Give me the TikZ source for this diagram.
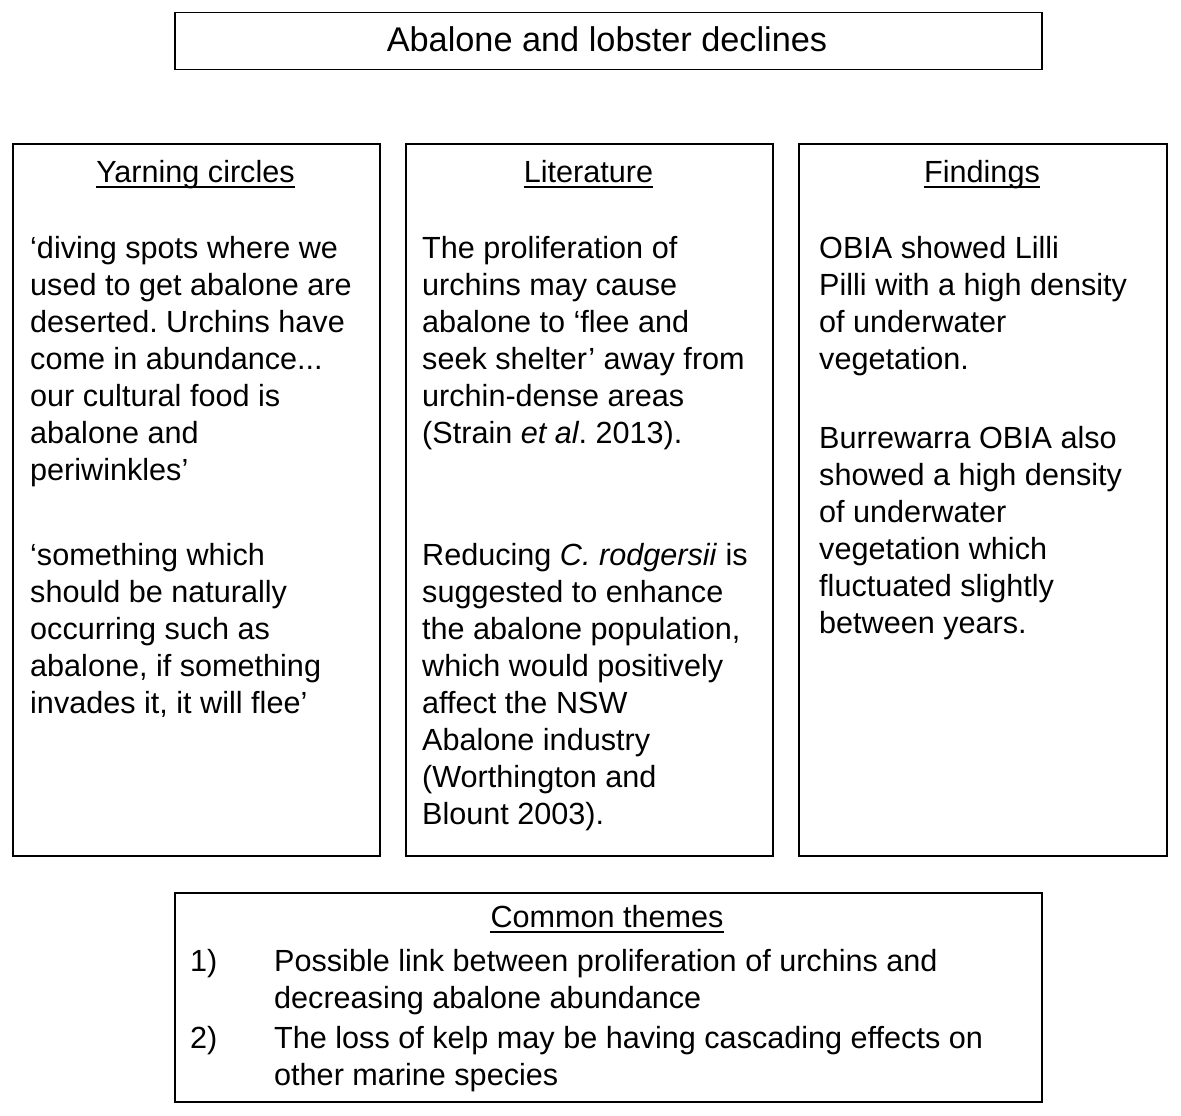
\documentclass[tikz,border=0pt]{standalone}
\usepackage{fontspec}
\setmainfont{Liberation Sans}
\frenchspacing
\newcommand{\bodyfont}{\fontsize{30.6}{37}\selectfont}
\newcommand{\titlefont}{\fontsize{34.3}{40}\selectfont}
\tikzset{
    panel/.style={draw, line width=1.5pt, inner sep=0pt, anchor=north west},
    head/.style={anchor=base, inner sep=0pt, font=\bodyfont},
    body/.style={anchor=north west, align=left, inner sep=0pt, font=\bodyfont},
    uline/.style={line width=1.6pt},
}
\begin{document}
\begin{tikzpicture}[x=1pt, y=-1pt]
    \useasboundingbox (0,0) rectangle (1181,1116);

    % title
    \node[panel, minimum width=867, minimum height=57] (titlebox) at (174,12) {};
    \node[head, font=\titlefont] (title) at (607,52) {Abalone and lobster declines};

    % three columns
    \node[panel, minimum width=367, minimum height=712] (yarnbox) at (12,143) {};
    \node[panel, minimum width=367, minimum height=712] (litbox) at (405,143) {};
    \node[panel, minimum width=368, minimum height=712] (findbox) at (798,143) {};

    % headings
    \node[head] (yarnhead) at (195.5,182) {Yarning circles};
    \node[head] (lithead) at (588.5,182) {Literature};
    \node[head] (findhead) at (982,182) {Findings};
    \foreach \h in {yarnhead, lithead, findhead}
        \draw[uline] ([yshift=-5pt]\h.base west) -- ([yshift=-5pt]\h.base east);

    % yarning circles
    \node[body] (yarn1) at (30,236) {‘diving spots where we\\used to get abalone are\\deserted. Urchins have\\come in abundance...\\our cultural food is\\abalone and\\periwinkles’};
    \node[body] (yarn2) at (30,543) {‘something which\\should be naturally\\occurring such as\\abalone, if something\\invades it, it will flee’};

    % literature
    \node[body] (lit1) at (422,236) {The proliferation of\\urchins may cause\\abalone to ‘flee and\\seek shelter’ away from\\urchin-dense areas\\(Strain \textit{et al}. 2013).};
    \node[body] (lit2) at (422,543) {Reducing \textit{C. rodgersii} is\\suggested to enhance\\the abalone population,\\which would positively\\affect the NSW\\Abalone industry\\(Worthington and\\Blount 2003).};

    % findings
    \node[body] (find1) at (819,236) {OBIA showed Lilli\\Pilli with a high density\\of underwater\\vegetation.};
    \node[body] (find2) at (819,426) {Burrewarra OBIA also\\showed a high density\\of underwater\\vegetation which\\fluctuated slightly\\between years.};

    % common themes
    \node[panel, minimum width=867, minimum height=209] (themebox) at (174,892) {};
    \node[head] (themehead) at (607,927) {Common themes};
    \draw[uline] ([yshift=-5pt]themehead.base west) -- ([yshift=-5pt]themehead.base east);
    \node[body] (num1) at (190,949) {1)};
    \node[body] (item1) at (274,949) {Possible link between proliferation of urchins and\\decreasing abalone abundance};
    \node[body] (num2) at (190,1026) {2)};
    \node[body] (item2) at (274,1026) {The loss of kelp may be having cascading effects on\\other marine species};
\end{tikzpicture}
\end{document}
